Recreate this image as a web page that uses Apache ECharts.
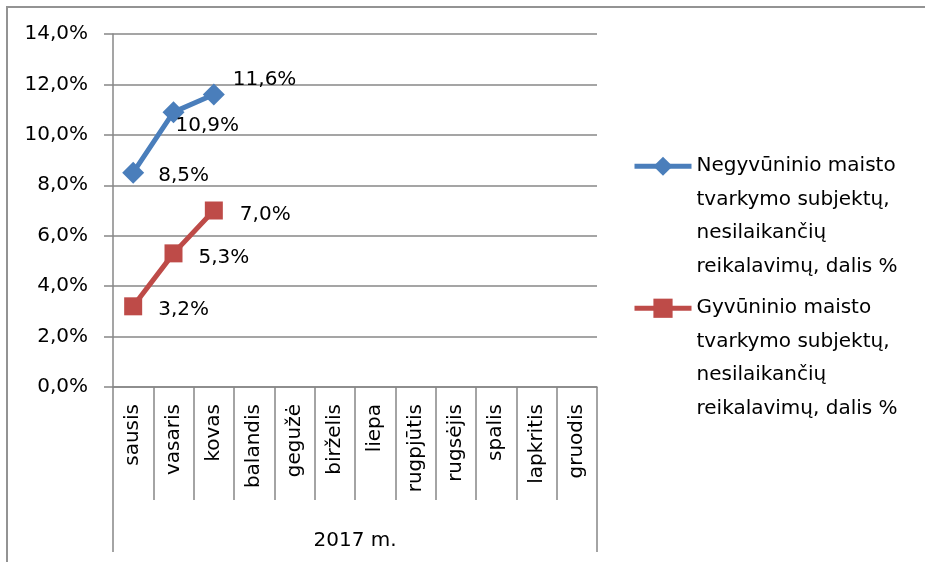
<!DOCTYPE html>
<html>
<head>
<meta charset="utf-8">
<script src="https://cdn.jsdelivr.net/npm/echarts@6/dist/echarts.min.js"></script>
<style>
  html, body { margin: 0; padding: 0; background: #fff; }
  #frame {
    position: absolute; left: 6px; top: 6px; width: 1000px; height: 1000px;
    border-left: 2px solid #939393; border-top: 2px solid #939393;
  }
  #chart { position: absolute; left: 0; top: 0; width: 925px; height: 562px; }
</style>
</head>
<body>
<div id="frame"></div>
<div id="chart"></div>
<script>
// kategorijos (mėnesiai) ir grupė
const months = ["sausis", "vasaris", "kovas", "balandis", "gegužė", "birželis",
  "liepa", "rugpjūtis", "rugsėjis", "spalis", "lapkritis", "gruodis"];
const yearGroup = ["2017 m."];

// reikšmės, %
const negyvuninio = [8.5, 10.9, 11.6];
const gyvuninio = [3.2, 5.3, 7.0];

const seriesNames = [
  "Negyvūninio maisto\ntvarkymo subjektų,\nnesilaikančių\nreikalavimų, dalis %",
  "Gyvūninio maisto\ntvarkymo subjektų,\nnesilaikančių\nreikalavimų, dalis %"
];

// y ašies žymės
const yTicks = [0, 2, 4, 6, 8, 10, 12, 14];

const FONT = "DejaVu Sans";
const axisGray = "#878787";

const fmtPct = (v) => v.toFixed(1).replace(".", ",") + "%";

// etikečių poslinkiai (tik išdėstymas)
const blueOffsets = [[0, 3], [-23, 14], [-6, -15]];
const redOffsets = [[2, 3], [2, 4], [3, 4]];

const withLabels = (values, offsets) =>
  values.map((v, i) => ({ value: v, label: { offset: offsets[i] } }));

const chart = echarts.init(document.getElementById("chart"));

const option = {
  animation: false,
  textStyle: { fontFamily: FONT },
  grid: { left: 113, right: 328, top: 34, bottom: 175, containLabel: false },
  legend: {
    orient: "vertical",
    left: 627,
    top: 44,
    itemWidth: 57,
    itemHeight: 24,
    itemGap: -92.5,
    data: seriesNames,
    lineStyle: { width: 5 },
    // tuščios eilutės viršuje: ženklas lygiuojamas su pirma teksto eilute
    formatter: (name) => "\n\n\n" + name,
    textStyle: {
      fontFamily: FONT,
      fontSize: 20,
      color: "#000",
      lineHeight: 33.5
    }
  },
  xAxis: [
    {
      type: "category",
      position: "bottom",
      data: months,
      boundaryGap: true,
      axisLine: { show: true, lineStyle: { color: axisGray, width: 1.5 } },
      axisTick: { show: true, interval: 0, length: 113, lineStyle: { color: axisGray, width: 1.5 } },
      axisLabel: {
        interval: 0,
        rotate: 90,
        margin: 17,
        fontFamily: FONT,
        fontSize: 20,
        color: "#000"
      }
    },
    {
      type: "category",
      position: "bottom",
      offset: 0,
      data: yearGroup,
      boundaryGap: true,
      axisLine: { show: false },
      axisTick: { show: true, length: 165, lineStyle: { color: axisGray, width: 1.5 } },
      axisLabel: { margin: 144, fontFamily: FONT, fontSize: 20, color: "#000" }
    }
  ],
  yAxis: {
    type: "value",
    min: yTicks[0],
    max: yTicks[yTicks.length - 1],
    interval: 2,
    axisLine: { show: true, lineStyle: { color: axisGray, width: 1.5 } },
    axisTick: { show: true, length: 9, lineStyle: { color: axisGray, width: 1.5 } },
    splitLine: { show: true, lineStyle: { color: axisGray, width: 1.5 } },
    axisLabel: {
      margin: 25,
      fontFamily: FONT,
      fontSize: 20,
      color: "#000",
      formatter: (v) => fmtPct(v)
    }
  },
  series: [
    {
      name: seriesNames[0],
      type: "line",
      xAxisIndex: 0,
      data: withLabels(negyvuninio, blueOffsets),
      symbol: "diamond",
      symbolSize: 22,
      lineStyle: { color: "#4a7ebb", width: 5 },
      itemStyle: { color: "#4a7ebb" },
      label: {
        show: true,
        position: "right",
        distance: 14,
        fontFamily: FONT,
        fontSize: 20,
        color: "#000",
        formatter: (p) => fmtPct(p.value)
      }
    },
    {
      name: seriesNames[1],
      type: "line",
      xAxisIndex: 0,
      data: withLabels(gyvuninio, redOffsets),
      symbol: "rect",
      symbolSize: 18,
      lineStyle: { color: "#be4b48", width: 5 },
      itemStyle: { color: "#be4b48" },
      label: {
        show: true,
        position: "right",
        distance: 14,
        fontFamily: FONT,
        fontSize: 20,
        color: "#000",
        formatter: (p) => fmtPct(p.value)
      }
    }
  ]
};

chart.setOption(option);
</script>
</body>
</html>
